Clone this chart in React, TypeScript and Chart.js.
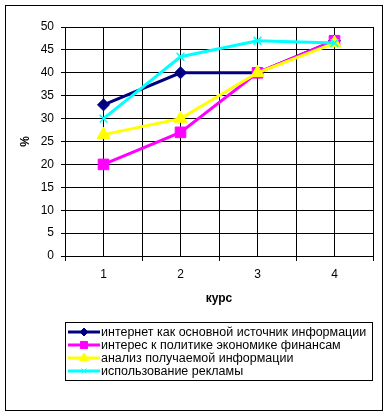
import React, { useEffect, useRef } from "react";
import { Chart, registerables } from "chart.js";
import { drawPoint } from "chart.js/helpers";

Chart.register(...registerables);

const categories = [1, 2, 3, 4];
const seriesNames = [
  "интернет как основной источник информации",
  "интерес к политике экономике финансам",
  "анализ получаемой информации",
  "использование рекламы",
];
const internetValues = [33, 40, 40, 47];
const politicsValues = [20, 27, 40, 47];
const analysisValues = [26.5, 30, 40, 46.5];
const adsValues = [30, 43.5, 47, 46.5];
const yTicks = [0, 5, 10, 15, 20, 25, 30, 35, 40, 45, 50];

const colors = ["#000080", "#FF00FF", "#FFFF00", "#00FFFF"];
const pointStyles = ["rectRot", "rect", "triangle", "crossRot"];
const pointRadii = [6, 7.5, 7.5, 5.5];
const legendRadii = [4, 5, 5, 3.5];
const FONT = "Arial, 'Liberation Sans', sans-serif";

const legendPlugin = {
  id: "boxLegend",
  afterDraw(chart: any) {
    const ctx = chart.ctx;
    ctx.save();
    // outer chart border
    ctx.strokeStyle = "#000";
    ctx.lineWidth = 1;
    ctx.strokeRect(5.5, 5.5, 377, 405);
    // legend box
    const bx = 65.5, by = 322.5, bw = 307, bh = 58;
    ctx.strokeRect(bx, by, bw, bh);
    ctx.font = "12.5px " + FONT;
    ctx.textBaseline = "middle";
    ctx.textAlign = "left";
    chart.data.datasets.forEach((ds: any, i: number) => {
      const cy = 332 + i * 13;
      ctx.strokeStyle = ds.borderColor;
      ctx.lineWidth = 3;
      ctx.beginPath();
      ctx.moveTo(68, cy);
      ctx.lineTo(100, cy);
      ctx.stroke();
      ctx.fillStyle = ds.backgroundColor;
      ctx.strokeStyle = ds.borderColor;
      ctx.lineWidth = 1;
      drawPoint(ctx, { pointStyle: ds.pointStyle, radius: legendRadii[i], borderWidth: 1, rotation: 0 } as any, 84, cy);
      ctx.fillStyle = "#000";
      ctx.fillText(ds.label, 101, cy + 0.5);
    });
    ctx.restore();
  },
};

export default function App() {
  const ref = useRef<HTMLCanvasElement>(null);
  useEffect(() => {
    if (!ref.current) return;
    const seriesValues = [internetValues, politicsValues, analysisValues, adsValues];
    const chart = new Chart(ref.current, {
      type: "line",
      data: {
        datasets: seriesValues.map((vals, i) => ({
          label: seriesNames[i],
          data: categories.map((c, j) => ({ x: c, y: vals[j] })),
          borderColor: colors[i],
          backgroundColor: colors[i],
          borderWidth: 3,
          pointStyle: pointStyles[i] as any,
          pointRadius: pointRadii[i],
          pointBorderWidth: i === 3 ? 1.5 : 1,
          order: 3 - i,
          tension: 0,
        })),
      },
      options: {
        responsive: false,
        animation: false,
        events: [],
        layout: { padding: { top: 27, right: 16, bottom: 103, left: 0 } },
        plugins: {
          legend: { display: false },
          tooltip: { enabled: false },
        },
        scales: {
          x: {
            type: "linear",
            min: 0.5,
            max: 4.5,
            afterBuildTicks(scale: any) {
              const t = [];
              for (let v = 0.5; v <= 4.5001; v += 0.5) t.push({ value: v });
              scale.ticks = t;
            },
            afterFit(scale: any) {
              scale.height = 60;
            },
            ticks: {
              autoSkip: false,
              maxRotation: 0,
              color: "#000",
              font: { family: FONT, size: 12 },
              padding: 6,
              callback: (v: any) => (Number(v) % 1 === 0 ? String(v) : ""),
            },
            grid: {
              color: "#000",
              lineWidth: 1,
              tickLength: 5,
              tickColor: (c: any) => (c.tick && c.tick.value % 1 === 0 ? "rgba(0,0,0,0)" : "#000"),
            },
            border: { color: "#000", width: 1 },
            title: {
              display: true,
              text: "курс",
              color: "#000",
              font: { family: FONT, size: 12, weight: "bold" },
              padding: { top: 4, bottom: 10 },
            },
          },
          y: {
            min: 0,
            max: 50,
            afterBuildTicks(scale: any) {
              scale.ticks = yTicks.map((v) => ({ value: v }));
            },
            afterFit(scale: any) {
              scale.width = 65;
            },
            ticks: {
              color: "#000",
              font: { family: FONT, size: 12 },
              padding: 7,
            },
            grid: { color: "#000", lineWidth: 1, tickLength: 4, tickColor: "#000" },
            border: { color: "#000", width: 1 },
            title: {
              display: true,
              text: "%",
              color: "#000",
              font: { family: FONT, size: 12, weight: "bold" },
              padding: { top: 18, bottom: 0 },
            },
          },
        },
      },
      plugins: [
        {
          id: "plotBorder",
          beforeDatasetsDraw(chart: any) {
            const a = chart.chartArea;
            const ctx = chart.ctx;
            ctx.save();
            ctx.strokeStyle = "#000";
            ctx.lineWidth = 1;
            ctx.strokeRect(Math.round(a.left) + 0.5, Math.round(a.top) + 0.5, Math.round(a.right - a.left), Math.round(a.bottom - a.top));
            ctx.restore();
          },
        },
        legendPlugin,
      ],
    } as any);
    return () => chart.destroy();
  }, []);
  return (
    <div style={{ position: "absolute", left: 0, top: 0, width: 389, height: 419, background: "#fff" }}>
      <canvas ref={ref} width={389} height={419} style={{ display: "block" }} />
    </div>
  );
}
